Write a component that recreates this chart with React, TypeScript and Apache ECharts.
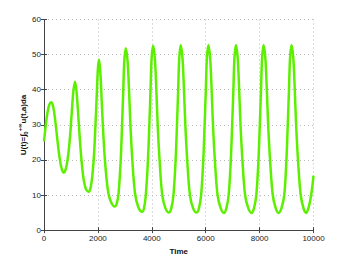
import React, { useEffect, useRef } from "react";
import * as echarts from "echarts";

const times: number[] = [
  0, 60, 130, 200, 270, 340, 420, 500, 580, 660, 740,
  820, 900, 970, 1030, 1090, 1148, 1200, 1260, 1320, 1390, 1470, 1560, 1667,
  1740, 1800, 1860, 1910, 1960, 2000, 2040, 2090, 2140, 2190, 2260, 2360, 2460, 2630,
  2700, 2767, 2847, 2897, 2942, 2982, 3037, 3102, 3157, 3207, 3277, 3377, 3497, 3641,
  3710, 3778, 3858, 3908, 3953, 3993, 4048, 4113, 4168, 4218, 4288, 4388, 4508, 4641,
  4722, 4804, 4884, 4934, 4979, 5019, 5074, 5139, 5194, 5244, 5314, 5414, 5534, 5667,
  5748, 5830, 5910, 5960, 6005, 6045, 6100, 6165, 6220, 6270, 6340, 6440, 6560, 6678,
  6765, 6852, 6932, 6982, 7027, 7067, 7122, 7187, 7242, 7292, 7362, 7462, 7582, 7704,
  7790, 7878, 7958, 8008, 8053, 8093, 8148, 8213, 8268, 8318, 8388, 8488, 8600, 8704,
  8810, 8915, 8995, 9045, 9090, 9130, 9185, 9250, 9305, 9355, 9425, 9525, 9630, 9730,
  9800, 9880, 9950, 10000,
];

const values: number[] = [
  25.3, 29.5, 33.5, 35.8, 36.4, 35.2, 31, 25.5, 20.5, 17.4, 16.4,
  17.8, 21.5, 27, 33.5, 39.5, 42.3, 40, 34, 27, 20, 14.5, 11.6, 10.9,
  12.5, 16, 22, 30, 39, 46, 48.6, 45, 37, 29, 20, 12, 8.5, 6.7,
  7.6, 10.5, 20, 30, 40, 48.5, 51.8, 48, 39.5, 30, 20, 10.5, 6.6, 5.2,
  6.2, 10, 20, 30, 40, 49, 52.5, 49, 40, 30, 20, 10, 6.2, 5.0,
  6.2, 10, 20, 30, 40, 49, 52.7, 49, 40, 30, 20, 10, 6.2, 5.0,
  6.2, 10, 20, 30, 40, 49, 52.7, 49, 40, 30, 20, 10, 6.2, 4.9,
  6.2, 10, 20, 30, 40, 49, 52.7, 49, 40, 30, 20, 10, 6.2, 4.9,
  6.2, 10, 20, 30, 40, 49, 52.7, 49, 40, 30, 20, 10, 6.2, 4.9,
  6.2, 10, 20, 30, 40, 49, 52.7, 49, 40, 30, 20, 10, 6.2, 4.9,
  6, 8.5, 12, 15.5,
];

const xTicks = { min: 0, max: 10000, interval: 2000 };
const yTicks = { min: 0, max: 60, interval: 10 };

const FONT = "'Liberation Sans', Arial, Helvetica, sans-serif";

export default function App() {
  const ref = useRef<HTMLDivElement>(null);
  useEffect(() => {
    if (!ref.current) return;
    const chart = echarts.init(ref.current, undefined, { renderer: "svg" });
    const axisLine = { show: true, lineStyle: { color: "#444", width: 1 } };
    const tick = { show: true, inside: true, length: 3, lineStyle: { color: "#444" } };
    const split = { show: true, lineStyle: { color: "#bbb", type: [1, 3] as any, width: 1 } };
    const label = { color: "#222", fontSize: 8, fontFamily: FONT, formatter: (v: number) => String(v) };
    chart.setOption({
      animation: false,
      backgroundColor: "#fff",
      grid: { left: 44, right: 32.5, top: 19.5, bottom: 29, containLabel: false },
      xAxis: [
        {
          type: "value",
          ...xTicks,
          position: "bottom",
          axisLine,
          axisTick: tick,
          splitLine: split,
          axisLabel: { ...label, margin: 4 },
          name: "Time",
          nameLocation: "middle",
          nameGap: 14,
          nameTextStyle: { fontSize: 8, fontWeight: "bold", color: "#111", fontFamily: FONT },
        },
        {
          type: "value",
          ...xTicks,
          position: "top",
          axisLine,
          axisTick: tick,
          splitLine: { show: false },
          axisLabel: { show: false },
        },
      ],
      yAxis: [
        {
          type: "value",
          ...yTicks,
          position: "left",
          axisLine,
          axisTick: tick,
          splitLine: split,
          axisLabel: { ...label, margin: 3 },
        },
        {
          type: "value",
          ...yTicks,
          position: "right",
          axisLine,
          axisTick: tick,
          splitLine: { show: false },
          axisLabel: { show: false },
        },
      ],
      graphic: [
        {
          type: "text",
          x: 23,
          y: 125,
          rotation: Math.PI / 2,
          style: {
            text: "{m|U(t)=∫}{sub|0}{sup|+∞}{m|u(t,a)da}",
            align: "center",
            verticalAlign: "middle",
            fill: "#111",
            rich: {
              m: { fontSize: 8, fontWeight: "bold", fontFamily: FONT, lineHeight: 12, fill: "#111" },
              sub: { fontSize: 6, fontWeight: "bold", fontFamily: FONT, verticalAlign: "bottom", lineHeight: 12, fill: "#111" },
              sup: { fontSize: 6, fontWeight: "bold", fontFamily: FONT, verticalAlign: "top", lineHeight: 12, fill: "#111" },
            },
          },
        },
      ],
      series: [
        {
          type: "line",
          data: times.map((t, i) => [t, values[i]]),
          showSymbol: false,
          smooth: 0.35,
          lineStyle: { color: "#5CF000", width: 2.5 },
          itemStyle: { color: "#5CF000" },
          xAxisIndex: 0,
          yAxisIndex: 0,
        },
      ],
    });
    return () => chart.dispose();
  }, []);
  return (
    <div
      ref={ref}
      style={{ position: "fixed", left: 0, top: 0, width: 346, height: 260, background: "#fff" }}
    />
  );
}
